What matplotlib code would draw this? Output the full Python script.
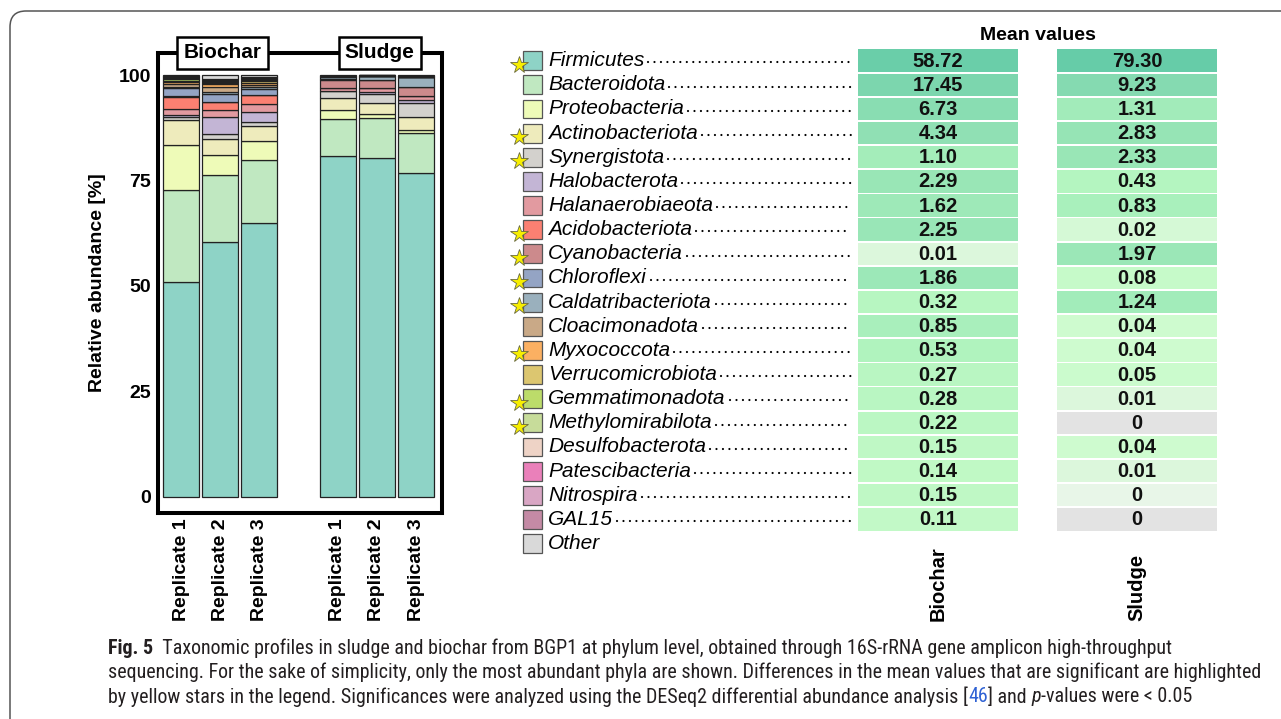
import matplotlib
matplotlib.use('Agg')
import matplotlib.pyplot as plt
import matplotlib.transforms as mtransforms
import numpy as np
from matplotlib import font_manager
from matplotlib.patches import Rectangle, FancyBboxPatch
from matplotlib.colors import LinearSegmentedColormap, LogNorm

plt.rcParams['font.family'] = ['Liberation Sans', 'DejaVu Sans']

# phyla, bottom of the stack first
phyla = ['Firmicutes', 'Bacteroidota', 'Proteobacteria', 'Actinobacteriota',
         'Synergistota', 'Halobacterota', 'Halanaerobiaeota', 'Acidobacteriota',
         'Cyanobacteria', 'Chloroflexi', 'Caldatribacteriota', 'Cloacimonadota',
         'Myxococcota', 'Verrucomicrobiota', 'Gemmatimonadota', 'Methylomirabilota',
         'Desulfobacterota', 'Patescibacteria', 'Nitrospira', 'GAL15', 'Other']
colors = ['#8ed3c6', '#c0e8c1', '#eefbb8', '#eeebbc', '#d3d1cd', '#c3b5d5',
          '#e29aa0', '#fb8072', '#cc8a8c', '#94a4c4', '#9ab0bd', '#c9a987',
          '#fbb062', '#dcc670', '#bcdc6a', '#c7dc9a', '#eed3c6', '#ea80ba',
          '#d9a6c4', '#c48aa5', '#d9d9d9']
significant = [True, False, False, True, True, False, False, True, True, True,
               True, False, True, False, True, True, False, False, False, False, False]

samples = ['Replicate 1', 'Replicate 2', 'Replicate 3',
           'Replicate 1', 'Replicate 2', 'Replicate 3']
groups = ['Biochar', 'Sludge']

# relative abundance [%] per replicate, same order as phyla
biochar_rep1 = [51.0, 21.6, 10.9, 5.8, 0.8, 0.5, 1.3, 3.0, 0.01, 2.0, 0.35, 0.6,
                0.5, 0.3, 0.3, 0.25, 0.15, 0.15, 0.15, 0.10, 0.24]
biochar_rep2 = [60.4, 15.8, 4.8, 3.7, 1.4, 4.0, 1.7, 1.8, 0.01, 2.0, 0.3, 1.3,
                0.6, 0.25, 0.25, 0.2, 0.15, 0.12, 0.15, 0.12, 0.95]
biochar_rep3 = [64.8, 15.0, 4.5, 3.5, 1.1, 2.4, 1.9, 1.95, 0.01, 1.6, 0.3, 0.65,
                0.5, 0.25, 0.3, 0.2, 0.15, 0.15, 0.15, 0.10, 0.49]
sludge_rep1 = [80.9, 8.7, 2.1, 2.9, 1.5, 0.2, 0.7, 0.02, 1.9, 0.08, 0.6, 0.04,
               0.04, 0.05, 0.01, 0.0, 0.04, 0.01, 0.005, 0.0, 0.21]
sludge_rep2 = [80.2, 9.6, 1.0, 2.6, 2.1, 0.4, 0.9, 0.02, 2.0, 0.08, 0.8, 0.04,
               0.04, 0.05, 0.01, 0.0, 0.04, 0.01, 0.005, 0.0, 0.11]
sludge_rep3 = [76.8, 9.4, 0.85, 3.0, 3.4, 0.7, 0.9, 0.02, 2.0, 0.08, 2.32, 0.04,
               0.04, 0.05, 0.01, 0.0, 0.04, 0.01, 0.002, 0.0, 0.34]

# group means shown in the table (no "Other" row)
mean_biochar = [58.72, 17.45, 6.73, 4.34, 1.10, 2.29, 1.62, 2.25, 0.01, 1.86,
                0.32, 0.85, 0.53, 0.27, 0.28, 0.22, 0.15, 0.14, 0.15, 0.11]
mean_sludge = [79.30, 9.23, 1.31, 2.83, 2.33, 0.43, 0.83, 0.02, 1.97, 0.08,
               1.24, 0.04, 0.04, 0.05, 0.01, 0.0, 0.04, 0.01, 0.004, 0.0]

W, H = 1281, 719
fig = plt.figure(figsize=(W / 100, H / 100), dpi=100)


def px_axes(x0, y0, x1, y1):
    # axes placed with pixel corners measured from the top-left
    return fig.add_axes([x0 / W, 1 - y1 / H, (x1 - x0) / W, (y1 - y0) / H])


# outer rounded frame
frame = FancyBboxPatch((10, -100), 1400, H - 11 + 100,
                       boxstyle='round,pad=0,rounding_size=16',
                       transform=mtransforms.IdentityTransform(),
                       fc='none', ec='#555555', lw=1.1)
fig.add_artist(frame)

# ---- stacked bars ----
ax = px_axes(158, 53, 442, 513)
pos = np.array([0, 1, 2, 4, 5, 6])
data = np.array([biochar_rep1, biochar_rep2, biochar_rep3,
                 sludge_rep1, sludge_rep2, sludge_rep3])
bottom = np.zeros(len(pos))
for i, name in enumerate(phyla):
    ax.bar(pos, data[:, i], bottom=bottom, width=0.92, color=colors[i],
           edgecolor='#222222', linewidth=0.9)
    bottom += data[:, i]

ax.set_xlim(-0.59, 6.66)
ax.set_ylim(-3.91, 105.22)
ax.set_yticks([0, 25, 50, 75, 100])
ax.set_xticks(pos)
ax.set_xticklabels(samples, rotation=90)
for lab in ax.get_xticklabels() + ax.get_yticklabels():
    lab.set_fontweight('bold')
ax.tick_params(length=0, labelsize=14)
ax.tick_params(axis='y', pad=5)
ax.tick_params(axis='x', pad=4)
ax.set_ylabel('Relative abundance [%]', fontsize=14, fontweight='bold', labelpad=9)
for sp in ax.spines.values():
    sp.set_linewidth(2.9)
    sp.set_color('black')

trans = mtransforms.blended_transform_factory(ax.transData, ax.transAxes)
for gx, g in zip([1.06, 5.07], groups):
    ax.text(gx, 1.0, g, transform=trans, ha='center', va='center',
            fontsize=15, fontweight='bold', clip_on=False, zorder=6,
            bbox=dict(boxstyle='square,pad=0.3', fc='white', ec='black', lw=1.8))

# ---- legend with leader dots ----
top_px, bot_px = 48.6, 555.6
axl = px_axes(505, top_px, 858, bot_px)
axl.set_xlim(505, 858)
axl.set_ylim(20.5, -0.5)
axl.axis('off')
labels = []
for i, name in enumerate(phyla):
    axl.add_patch(Rectangle((523, i - 0.39), 19, 0.78, fc=colors[i],
                            ec='#555555', lw=0.9))
    if significant[i]:
        axl.plot(519, i + 0.17, marker='*', ms=13, mfc='#f7ee00',
                 mec='#6a6a40', mew=0.6, zorder=5)
    t = axl.text(548, i, name, style='italic', fontsize=15,
                 ha='left', va='center')
    labels.append(t)

# ---- heatmap of mean values ----
axh = px_axes(858, top_px, 1217, bot_px)
axh.set_xlim(-0.402, 1.402)
axh.set_ylim(20.5, -0.5)
axh.axis('off')

stops = [(0.004, '#e8f6e8'), (0.01, '#dcf7dc'), (0.04, '#cefbcf'),
         (0.12, '#c1f9c6'), (0.4, '#b5f5c0'), (1.0, '#a6eebb'),
         (3.0, '#95e3b5'), (10, '#84dab1'), (30, '#74d3ac'), (80, '#66cca8')]
lo, hi = np.log10(stops[0][0]), np.log10(stops[-1][0])
cmap = LinearSegmentedColormap.from_list(
    'means', [((np.log10(v) - lo) / (hi - lo), c) for v, c in stops])
norm = LogNorm(vmin=stops[0][0], vmax=stops[-1][0])

rows = np.arange(len(mean_biochar))
for col, vals in enumerate([mean_biochar, mean_sludge]):
    vals = np.array(vals)
    cell_colors = [cmap(norm(v)) if v > 0 else '#e3e3e3' for v in vals]
    axh.barh(rows, 0.804, left=col - 0.402, height=0.928, color=cell_colors)
    for r, v in zip(rows, vals):
        txt = '0' if v < 0.005 else f'{v:.2f}'
        axh.text(col, r + 0.02, txt, ha='center', va='center',
                 fontsize=14.5, fontweight='bold', color='#111111')
    axh.text(col, 23.2, groups[col], rotation=90, ha='center', va='bottom',
             fontsize=14.5, fontweight='bold', clip_on=False)

fig.text(1037.5 / W, 1 - 36 / H, 'Mean values', ha='center', va='center',
         fontsize=14, fontweight='bold')

# leader dots from each label to the table
fig.canvas.draw()
renderer = fig.canvas.get_renderer()
for i, t in enumerate(labels[:-1]):
    x_end = axl.transData.inverted().transform((t.get_window_extent(renderer).x1, 0))[0]
    axl.plot([x_end + 4, 851], [i + 0.07, i + 0.07], color='black', lw=1.6,
             linestyle=(0, (0.01, 2.9)), dash_capstyle='round')

# ---- caption ----
# prefer a narrow face (with a regular weight) if one is installed
ttf = font_manager.fontManager.ttflist


def weight_num(w):
    if isinstance(w, (int, float)):
        return w
    return font_manager.weight_dict.get(w, 400)


cap_font, cap_weight, cap_stretch = ['Liberation Sans'], 'normal', 'normal'
for cand in ['Liberation Sans Narrow', 'Open Sans Condensed', 'Roboto Condensed',
             'DejaVu Sans']:
    faces = [f for f in ttf if f.name == cand
             and (cand != 'DejaVu Sans' or f.stretch == 'condensed')]
    light = [weight_num(f.weight) for f in faces if weight_num(f.weight) < 600]
    if light:
        cap_font = [cand]
        cap_weight = min(light, key=lambda w: abs(w - 400))
        if cand == 'DejaVu Sans':
            cap_stretch = 'condensed'
        break

cap_color = '#231f20'
caption = [
    [('Fig. 5', {'fontweight': 'bold'}),
     ('  Taxonomic profiles in sludge and biochar from BGP1 at phylum level, obtained through '
      '16S-rRNA gene amplicon high-throughput', {})],
    [('sequencing. For the sake of simplicity, only the most abundant phyla are shown. '
      'Differences in the mean values that are significant are highlighted', {})],
    [('by yellow stars in the legend. Significances were analyzed using the DESeq2 '
      'differential abundance analysis [', {}),
     ('46', {'color': '#2f62d4'}), ('] and ', {}), ('p', {'style': 'italic'}),
     ('-values were < 0.05', {})],
]

# size the caption so the second line spans the text block
probe = fig.text(0, 0, caption[1][0][0], fontsize=14, family=cap_font,
                 weight=cap_weight, stretch=cap_stretch)
probe_w = probe.get_window_extent(renderer).width
probe.remove()
cap_size = 14 * 1160 / probe_w

for k, line in enumerate(caption):
    x = 108
    y = 648 + 24.5 * k
    for txt, kw in line:
        opts = dict(fontsize=cap_size, color=cap_color, family=cap_font,
                    fontweight=cap_weight, stretch=cap_stretch)
        opts.update(kw)
        t = fig.text(x / W, 1 - y / H, txt, ha='left', va='center', **opts)
        x = t.get_window_extent(renderer).x1

fig.savefig('out.png', dpi=100)
